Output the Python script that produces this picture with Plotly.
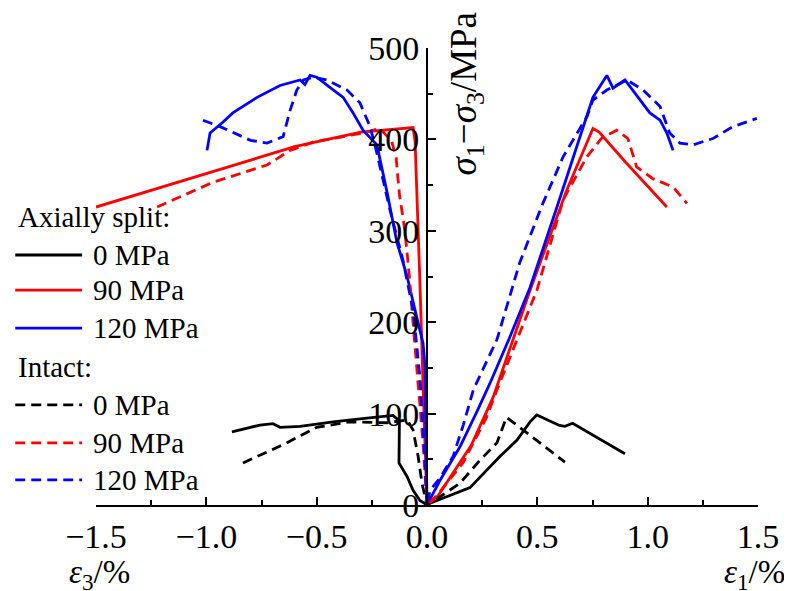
import plotly.graph_objects as go

# lateral strain (eps3, %) and deviatoric stress (MPa)
eps3_split_0 = [-0.884, -0.757, -0.698, -0.666, -0.575, -0.426, -0.272, -0.154, -0.125, -0.127, -0.09, -0.063, -0.032, 0.0]
s3_split_0 = [80, 87.5, 89, 85, 86, 91, 95, 98, 92, 46, 31, 16, 5, 0]
eps3_split_90 = [-1.5, -1.0, -0.6, -0.3, -0.12, -0.063, -0.054, -0.045, -0.032, -0.018, -0.005, 0.0]
s3_split_90 = [326, 363, 392, 408, 412, 413, 398, 340, 243, 133, 49, 0]
eps3_split_120 = [-0.997, -0.983, -0.924, -0.88, -0.77, -0.666, -0.575, -0.553, -0.53, -0.5, -0.44, -0.38,
                  -0.335, -0.29, -0.227, -0.18, -0.136, -0.09, -0.054, -0.018, -0.008, -0.003, 0.0]
s3_split_120 = [388, 407, 419, 429, 446, 459, 465, 460, 470, 468, 457, 446,
                429, 410, 394, 341, 287, 250, 213, 177, 150, 80, 0]

eps3_intact_0 = [-0.834, -0.652, -0.5, -0.349, -0.181, -0.09, -0.063, -0.04, -0.023, 0.0]
s3_intact_0 = [46, 66, 85, 91, 90, 93, 82, 53, 24, 0]
eps3_intact_90 = [-1.223, -0.97, -0.725, -0.62, -0.517, -0.29, -0.213, -0.16, -0.14, -0.125, -0.1,
                  -0.08, -0.06, -0.035, -0.018, -0.008, 0.0]
s3_intact_90 = [326, 353, 372, 388, 397, 407, 412, 398, 380, 340, 300, 250, 190, 120, 68, 30, 0]
eps3_intact_120 = [-1.015, -0.938, -0.8, -0.725, -0.652, -0.62, -0.59, -0.56, -0.517, -0.453, -0.362,
                   -0.304, -0.258, -0.227, -0.168, -0.109, -0.063, -0.032, -0.009, 0.0]
s3_intact_120 = [421, 414, 399, 396, 403, 432, 454, 465, 468, 465, 454, 440, 414, 385, 323, 268, 213, 140, 49, 0]

# axial strain (eps1, %)
eps1_split_0 = [0.0, 0.014, 0.09, 0.195, 0.33, 0.408, 0.467, 0.498, 0.6, 0.625, 0.66, 0.897]
s1_split_0 = [0, 2, 9, 19, 53, 71, 91, 98.5, 87, 86, 89.5, 56]
eps1_split_90 = [0.0, 0.05, 0.12, 0.2, 0.3, 0.467, 0.634, 0.752, 0.78, 0.9, 1.087]
s1_split_90 = [0, 10, 35, 65, 118, 235, 345, 412, 408, 375, 326]
eps1_split_120 = [0.0, 0.059, 0.15, 0.23, 0.285, 0.376, 0.467, 0.589, 0.68, 0.752, 0.815, 0.843,
                  0.897, 0.965, 1.01, 1.056, 1.087, 1.115]
s1_split_120 = [0, 27, 64, 104, 133, 184, 238, 326, 392, 446, 470, 456, 465, 443, 429, 421, 407, 388]

eps1_intact_0 = [0.0, 0.059, 0.15, 0.24, 0.317, 0.36, 0.42, 0.625]
s1_intact_0 = [0, 9, 24, 49, 68, 96, 85, 47]
eps1_intact_90 = [0.0, 0.05, 0.163, 0.27, 0.317, 0.39, 0.498, 0.617, 0.725, 0.79, 0.86, 0.91, 0.95,
                  1.024, 1.115, 1.178]
s1_intact_90 = [0, 12, 46, 96, 126, 170, 235, 334, 381, 401, 410, 401, 370, 357, 348, 330]
eps1_intact_120 = [0.0, 0.014, 0.06, 0.118, 0.165, 0.21, 0.317, 0.42, 0.525, 0.617, 0.725, 0.752,
                   0.815, 0.906, 0.98, 1.056, 1.1, 1.146, 1.205, 1.296, 1.387, 1.495]
s1_intact_120 = [0, 16, 30, 53, 88, 126, 181, 265, 330, 381, 425, 443, 454, 465, 454, 436, 407, 396,
                 394, 401, 414, 423]

FONT = 'Liberation Serif'
DASH = '10px,6px'
LW = 2.8

series = [
    ('split', '0 MPa', 'black', 'solid', eps3_split_0, s3_split_0, eps1_split_0, s1_split_0),
    ('split', '90 MPa', 'red', 'solid', eps3_split_90, s3_split_90, eps1_split_90, s1_split_90),
    ('split', '120 MPa', 'blue', 'solid', eps3_split_120, s3_split_120, eps1_split_120, s1_split_120),
    ('intact', '0 MPa', 'black', DASH, eps3_intact_0, s3_intact_0, eps1_intact_0, s1_intact_0),
    ('intact', '90 MPa', 'red', DASH, eps3_intact_90, s3_intact_90, eps1_intact_90, s1_intact_90),
    ('intact', '120 MPa', 'blue', DASH, eps3_intact_120, s3_intact_120, eps1_intact_120, s1_intact_120),
]

fig = go.Figure()
for group, name, color, dash, e3, s3, e1, s1 in series:
    # one trace per test: lateral branch, then the axial branch from the origin
    fig.add_trace(go.Scatter(
        x=e3 + e1[1:], y=s3 + s1[1:], mode='lines', name=f'{group} {name}',
        line=dict(color=color, width=LW, dash=dash), showlegend=False,
    ))

# hand-made legend like the original (two titled groups)
row_y = [0.630, 0.547, 0.470, 0.387, 0.302, 0.219, 0.136, 0.055]
rows = [('Axially split:', None, None)] + [(s[1], s[2], s[3]) for s in series[:3]] + \
       [('Intact:', None, None)] + [(s[1], s[2], s[3]) for s in series[3:]]
annotations = []
shapes = []
for (label, color, dash), yy in zip(rows, row_y):
    if color is None:
        annotations.append(dict(text=label, x=-0.121, y=yy, xref='paper', yref='paper',
                                xanchor='left', yanchor='middle', showarrow=False,
                                font=dict(family=FONT, size=29, color='black')))
    else:
        shapes.append(dict(type='line', xref='paper', yref='paper', x0=-0.122, x1=-0.021,
                           y0=yy, y1=yy, line=dict(color=color, width=LW, dash=dash)))
        annotations.append(dict(text=label, x=-0.008, y=yy, xref='paper', yref='paper',
                                xanchor='left', yanchor='middle', showarrow=False,
                                font=dict(family=FONT, size=29, color='black')))

annotations += [
    dict(text='<i>σ</i><sub>1</sub>−<i>σ</i><sub>3</sub>/MPa', textangle=-90, x=0.56, y=0.9,
         xref='paper', yref='paper', xanchor='center', yanchor='middle', showarrow=False,
         font=dict(family=FONT, size=37, color='black')),
    dict(text='<i>ε</i><sub>3</sub>/%', x=0.006, y=-0.152, xref='paper', yref='paper',
         xanchor='center', yanchor='middle', showarrow=False,
         font=dict(family=FONT, size=33, color='black')),
    dict(text='<i>ε</i><sub>1</sub>/%', x=0.995, y=-0.152, xref='paper', yref='paper',
         xanchor='center', yanchor='middle', showarrow=False,
         font=dict(family=FONT, size=33, color='black')),
]

# page body has an 8px margin, so the figure is sized to fit the window
fig.update_layout(
    width=784, height=583,
    margin=dict(l=88, r=34, t=40, b=86),
    plot_bgcolor='white', paper_bgcolor='white',
    font=dict(family=FONT, size=34, color='black'),
    annotations=annotations,
    shapes=shapes,
)
fig.update_xaxes(
    range=[-1.5, 1.5], tickvals=[-1.5, -1.0, -0.5, 0.0, 0.5, 1.0, 1.5], tickformat='.1f',
    ticks='inside', ticklen=8, tickwidth=2, tickcolor='black',
    minor=dict(ticks='inside', dtick=0.25, ticklen=5, tickwidth=2, tickcolor='black'),
    showline=True, linewidth=2, linecolor='black', showgrid=False, zeroline=False,
)
fig.update_yaxes(
    range=[0, 500], dtick=100, anchor='free', position=0.5,
    ticks='inside', ticklen=8, tickwidth=2, tickcolor='black',
    minor=dict(ticks='inside', dtick=50, ticklen=5, tickwidth=2, tickcolor='black'),
    showline=True, linewidth=2, linecolor='black', showgrid=False, zeroline=False,
)

fig.write_html('out.html')
